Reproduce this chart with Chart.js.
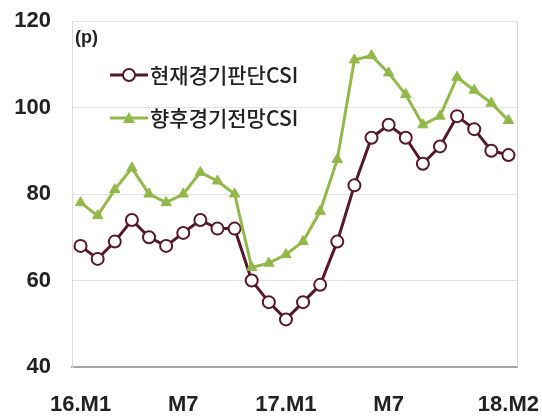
<!DOCTYPE html>
<html>
<head>
<meta charset="utf-8">
<script src="https://cdn.jsdelivr.net/npm/chart.js@4"></script>
<style>
  html, body { margin: 0; padding: 0; background: #fff; }
  #wrap { width: 542px; height: 419px; }
</style>
</head>
<body>
<div id="wrap"><canvas id="csiChart" width="542" height="419"></canvas></div>
<script>
// months 16.M1 .. 18.M2
const months = [
  '16.M1','16.M2','16.M3','16.M4','16.M5','16.M6','16.M7','16.M8','16.M9','16.M10','16.M11','16.M12',
  '17.M1','17.M2','17.M3','17.M4','17.M5','17.M6','17.M7','17.M8','17.M9','17.M10','17.M11','17.M12',
  '18.M1','18.M2'
];
// labels actually shown on the x axis
const shownTicks = { 0: '16.M1', 6: 'M7', 12: '17.M1', 18: 'M7', 25: '18.M2' };

const currentName = '현재경기판단CSI';
const currentCSI = [68, 65, 69, 74, 70, 68, 71, 74, 72, 72, 60, 55, 51, 55, 59, 69, 82, 93, 96, 93, 87, 91, 98, 95, 90, 89];

const outlookName = '향후경기전망CSI';
const outlookCSI = [78, 75, 81, 86, 80, 78, 80, 85, 83, 80, 63, 64, 66, 69, 76, 88, 111, 112, 108, 103, 96, 98, 107, 104, 101, 97];

const yTicks = [40, 60, 80, 100, 120];

const maroon = '#561826';
const green = '#93b84a';
const tickFont = { family: 'Liberation Sans', size: 22, weight: 'bold' };

// legend drawn inside the plot, plus right-hand border
const insideLegend = {
  id: 'insideLegend',
  afterDraw(chart) {
    const ctx = chart.ctx;
    const a = chart.chartArea;
    ctx.save();
    // right border
    ctx.strokeStyle = '#d9d9d9';
    ctx.lineWidth = 1;
    ctx.beginPath();
    ctx.moveTo(a.right + 0.5, a.top);
    ctx.lineTo(a.right + 0.5, a.bottom);
    ctx.stroke();

    ctx.fillStyle = '#222';
    ctx.font = 'bold 18px "Liberation Sans"';
    ctx.textBaseline = 'middle';
    ctx.fillText('(p)', a.left + 3, 38);

    const rows = [
      { y: 75, color: maroon, name: currentName, type: 'circle' },
      { y: 118, color: green, name: outlookName, type: 'triangle' }
    ];
    rows.forEach(r => {
      ctx.strokeStyle = r.color;
      ctx.lineWidth = 3;
      ctx.beginPath();
      ctx.moveTo(110, r.y);
      ctx.lineTo(148, r.y);
      ctx.stroke();
      if (r.type === 'circle') {
        ctx.fillStyle = '#fff';
        ctx.lineWidth = 2;
        ctx.beginPath();
        ctx.arc(129, r.y, 6, 0, Math.PI * 2);
        ctx.fill();
        ctx.stroke();
      } else {
        ctx.fillStyle = r.color;
        ctx.beginPath();
        ctx.moveTo(129, r.y - 6);
        ctx.lineTo(135, r.y + 5);
        ctx.lineTo(123, r.y + 5);
        ctx.closePath();
        ctx.fill();
      }
      ctx.fillStyle = '#222';
      ctx.font = '500 21px "Noto Sans CJK KR"';
      ctx.fillText(r.name, 150, r.y);
    });
    ctx.restore();
  }
};

const ctx = document.getElementById('csiChart').getContext('2d');
const csiChart = new Chart(ctx, {
  type: 'line',
  data: {
    labels: months,
    datasets: [{
      label: outlookName,
      data: outlookCSI,
      borderColor: green,
      backgroundColor: green,
      borderWidth: 3,
      pointStyle: 'triangle',
      pointRadius: 6,
      pointBorderWidth: 1,
      tension: 0
    }, {
      label: currentName,
      data: currentCSI,
      borderColor: maroon,
      backgroundColor: '#fff',
      borderWidth: 3,
      pointStyle: 'circle',
      pointRadius: 6,
      pointBorderWidth: 2,
      tension: 0
    }]
  },
  options: {
    responsive: false,
    animation: false,
    layout: { padding: { left: 0, right: 25, top: 21, bottom: 0 } },
    plugins: {
      legend: { display: false },
      tooltip: { enabled: false }
    },
    scales: {
      x: {
        offset: true,
        grid: { display: false, drawTicks: false },
        border: { display: true, color: '#a6a6a6', width: 2 },
        ticks: {
          autoSkip: false,
          maxRotation: 0,
          padding: 25,
          color: '#222',
          font: tickFont,
          callback: (v, i) => shownTicks[i] || ''
        },
        afterFit: s => { s.height = 52; s.paddingLeft = 0; s.paddingRight = 0; }
      },
      y: {
        min: yTicks[0],
        max: yTicks[yTicks.length - 1],
        grid: { color: '#e3e3e3', drawTicks: false },
        border: { display: true, color: '#d9d9d9' },
        ticks: {
          stepSize: 20,
          padding: 21,
          color: '#222',
          font: tickFont
        },
        afterFit: s => { s.width = 72; s.paddingTop = 0; s.paddingBottom = 0; }
      }
    }
  },
  plugins: [insideLegend]
});
</script>
</body>
</html>
